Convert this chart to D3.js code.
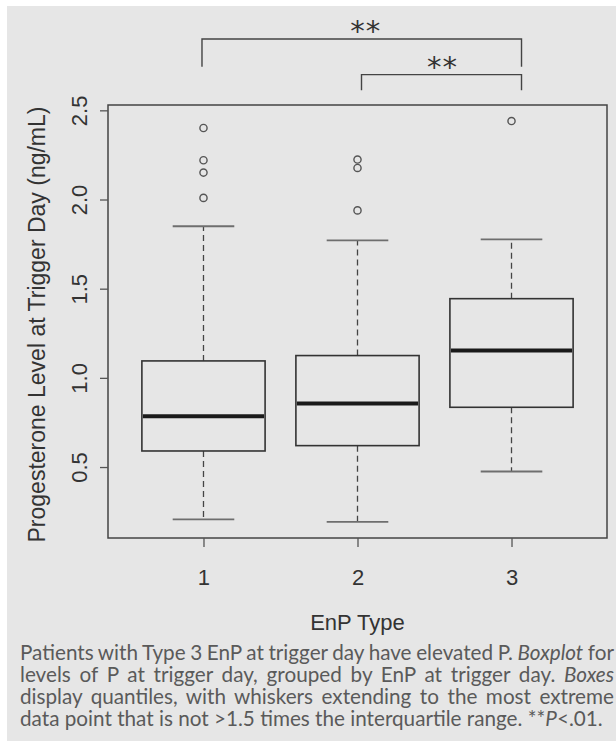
<!DOCTYPE html>
<html>
<head>
<meta charset="utf-8">
<script src="https://cdn.jsdelivr.net/npm/d3@7"></script>
<style>
  html, body { margin: 0; padding: 0; background: #ffffff; }
  svg { display: block; }
</style>
</head>
<body>
<svg id="chart" width="616" height="741"></svg>
<script>
// EnP types on the x axis
const categories = ["1", "2", "3"];
// Five-number summaries of progesterone (ng/mL) per EnP type
const whiskerLow  = [0.206, 0.192, 0.475];
const quartile1   = [0.590, 0.620, 0.835];
const medians     = [0.785, 0.856, 1.153];
const quartile3   = [1.095, 1.125, 1.444];
const whiskerHigh = [1.850, 1.771, 1.777];
// Points beyond 1.5 x IQR
const outliers = [
  [2.401, 2.220, 2.151, 2.009],
  [2.224, 2.177, 1.939],
  [2.440]
];
// Y axis tick labels
const yTicks = [0.5, 1.0, 1.5, 2.0, 2.5];
// Significance brackets between types
const comparisons = [
  { from: "1", to: "3", label: "**", level: 2.90, drop: 2.745 },
  { from: "2", to: "3", label: "**", level: 2.70, drop: 2.612 }
];
const xTitle = "EnP Type";
const yTitle = "Progesterone Level at Trigger Day (ng/mL)";
// Caption, one entry per printed line; _word_ is set in italics
const captionLines = [
  "Patients with Type 3 EnP at trigger day have elevated P. _Boxplot_ for",
  "levels of P at trigger day, grouped by EnP at trigger day. _Boxes_",
  "display quantiles, with whiskers extending to the most extreme",
  "data point that is not >1.5 times the interquartile range. **_P_<.01."
];

const svg = d3.select("#chart");
const frame = { left: 108, right: 607, top: 105, bottom: 538 };
const axisFont = "'Liberation Sans', Arial, sans-serif";

// Panel background
svg.append("rect").attr("x", 7).attr("y", 6).attr("width", 609).attr("height", 735)
  .attr("fill", "#e6e6e6");

// Scales: R-style 4% padding around the data range
const allVals = whiskerLow.concat(whiskerHigh, outliers.flat());
const vmin = d3.min(allVals), vmax = d3.max(allVals);
const pad = (vmax - vmin) * 0.04;
const y = d3.scaleLinear().domain([vmin - pad, vmax + pad]).range([frame.bottom, frame.top]);
const n = categories.length;
const xPad = n * 0.04;
const x = d3.scaleLinear().domain([0.5 - xPad, n + 0.5 + xPad]).range([frame.left, frame.right]);
const xc = c => x(categories.indexOf(c) + 1);
const unit = x(1) - x(0);
const boxW = unit * 0.8;
const capW = boxW * 0.5;

// Frame
svg.append("rect")
  .attr("x", frame.left).attr("y", frame.top)
  .attr("width", frame.right - frame.left).attr("height", frame.bottom - frame.top)
  .attr("fill", "none").attr("stroke", "#444").attr("stroke-width", 1.5);

// Y axis
const yAxis = d3.axisLeft(y).tickValues(yTicks).tickFormat(d3.format(".1f")).tickSize(8).tickPadding(0);
const gy = svg.append("g").attr("transform", `translate(${frame.left},0)`).call(yAxis);
gy.select(".domain").remove();
gy.selectAll(".tick line").attr("stroke", "#555").attr("stroke-width", 1.3);
gy.selectAll(".tick text")
  .attr("font-family", axisFont).attr("font-size", 22).attr("fill", "#333")
  .attr("text-anchor", "middle").attr("dy", null)
  .attr("transform", "translate(-21,0) rotate(-90)")
  .attr("x", 0).attr("y", 0);

// X axis
const xAxis = d3.axisBottom(x).tickValues(categories.map((c, i) => i + 1))
  .tickFormat((d, i) => categories[i]).tickSize(9).tickPadding(22);
const gx = svg.append("g").attr("transform", `translate(0,${frame.bottom})`).call(xAxis);
gx.select(".domain").remove();
gx.selectAll(".tick line").attr("stroke", "#555").attr("stroke-width", 1.3);
gx.selectAll(".tick text")
  .attr("font-family", axisFont).attr("font-size", 22).attr("fill", "#333");

// Axis titles
svg.append("text").attr("x", (frame.left + frame.right) / 2).attr("y", 630)
  .attr("text-anchor", "middle").attr("font-family", axisFont).attr("font-size", 22)
  .attr("fill", "#333").text(xTitle);
svg.append("text")
  .attr("transform", `translate(45,${(frame.top + frame.bottom) / 2 + 3}) rotate(-90)`)
  .attr("text-anchor", "middle").attr("font-family", axisFont).attr("font-size", 23)
  .attr("fill", "#333").text(yTitle);

// Boxes
const boxes = categories.map((c, i) => ({
  c, lo: whiskerLow[i], q1: quartile1[i], med: medians[i], q3: quartile3[i], hi: whiskerHigh[i], out: outliers[i]
}));
const g = svg.append("g");
const bx = g.selectAll("g.box").data(boxes).join("g").attr("class", "box");

// whiskers (dashed)
bx.append("line")
  .attr("x1", d => xc(d.c)).attr("x2", d => xc(d.c))
  .attr("y1", d => y(d.q3)).attr("y2", d => y(d.hi))
  .attr("stroke", "#444").attr("stroke-width", 1.3).attr("stroke-dasharray", "6,4");
bx.append("line")
  .attr("x1", d => xc(d.c)).attr("x2", d => xc(d.c))
  .attr("y1", d => y(d.q1)).attr("y2", d => y(d.lo))
  .attr("stroke", "#444").attr("stroke-width", 1.3).attr("stroke-dasharray", "6,4");
// staples
bx.selectAll("line.cap").data(d => [[d.c, d.lo], [d.c, d.hi]]).join("line").attr("class", "cap")
  .attr("x1", d => xc(d[0]) - capW / 2).attr("x2", d => xc(d[0]) + capW / 2)
  .attr("y1", d => y(d[1])).attr("y2", d => y(d[1]))
  .attr("stroke", "#6e6e6e").attr("stroke-width", 1.8);
// box
bx.append("rect")
  .attr("x", d => xc(d.c) - boxW / 2).attr("width", boxW)
  .attr("y", d => y(d.q3)).attr("height", d => y(d.q1) - y(d.q3))
  .attr("fill", "#e6e6e6").attr("stroke", "#333").attr("stroke-width", 1.6);
// median
bx.append("line")
  .attr("x1", d => xc(d.c) - boxW / 2 + 1).attr("x2", d => xc(d.c) + boxW / 2 - 1)
  .attr("y1", d => y(d.med)).attr("y2", d => y(d.med))
  .attr("stroke", "#1a1a1a").attr("stroke-width", 4);
// outliers
bx.selectAll("circle").data(d => d.out.map(v => [d.c, v])).join("circle")
  .attr("cx", d => xc(d[0])).attr("cy", d => y(d[1])).attr("r", 3.6)
  .attr("fill", "none").attr("stroke", "#555").attr("stroke-width", 1.4);

// Significance brackets
const br = svg.append("g");
comparisons.forEach((cmp, i) => {
  const x1 = xc(cmp.from) + (i === 0 ? -1.5 : 4);
  const x2 = xc(cmp.to) + 10;
  const yl = y(cmp.level), yd = y(cmp.drop);
  br.append("path")
    .attr("d", `M${x1},${yd}V${yl}H${x2}V${yd}`)
    .attr("fill", "none").attr("stroke", "#444").attr("stroke-width", 1.4);
  br.append("text")
    .attr("x", (x1 + x2) / 2 + (i === 0 ? 4 : 1)).attr("y", yl + 2)
    .attr("text-anchor", "middle").attr("font-family", "'DejaVu Sans', sans-serif")
    .attr("font-size", 29).attr("letter-spacing", 1)
    .attr("fill", "#333").text(cmp.label);
});

// Caption: justified lines with the last line left-aligned
const capFont = "Lato, 'Open Sans', sans-serif";
const capLeft = 20, capRight = 614, capTop = 660, capLead = 22;
function fill(sel, line) {
  line.split("_").forEach((t, i) => {
    if (t.length) sel.append("tspan").attr("font-style", i % 2 === 1 ? "italic" : "normal").text(t);
  });
}
// size the caption so the last line spans its printed width
const probe = svg.append("text").attr("font-family", capFont).attr("font-size", 16);
fill(probe, captionLines[3]);
const capSize = 16 * 583 / probe.node().getComputedTextLength();
probe.remove();

const cap = svg.append("g").attr("font-family", capFont).attr("font-size", capSize).attr("fill", "#5a5a5a");
captionLines.forEach((line, li) => {
  const t = cap.append("text").attr("x", capLeft).attr("y", capTop + li * capLead);
  fill(t, line);
  if (li < captionLines.length - 1) {
    // widen the word gaps so the line fills the column
    const spaces = line.split(" ").length - 1;
    const extra = (capRight - capLeft - t.node().getComputedTextLength()) / spaces;
    t.attr("word-spacing", extra);
  }
});
</script>
</body>
</html>
